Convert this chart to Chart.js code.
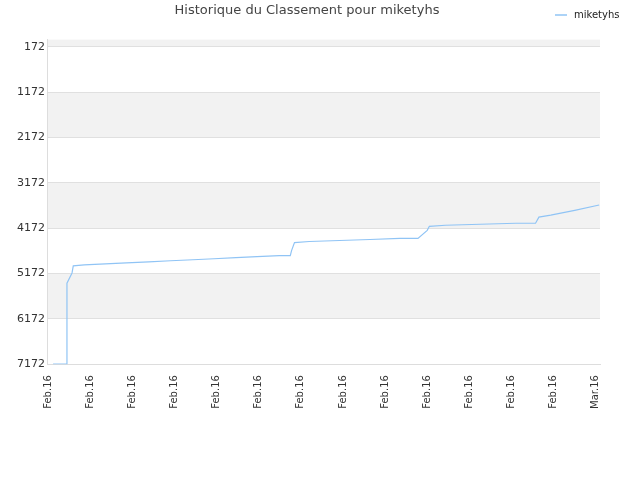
<!DOCTYPE html>
<html>
<head>
<meta charset="utf-8">
<script src="https://cdn.jsdelivr.net/npm/chart.js@4"></script>
<style>
  html, body { margin: 0; background: #fff; }
  #wrap { width: 640px; height: 480px; }
</style>
</head>
<body>
<div id="wrap"><canvas id="chart"></canvas></div>
<script>
const dayPos = [0.12, 0.45, 0.45, 0.57, 0.6, 0.86, 1.36, 1.86, 2.39, 2.91, 3.44, 3.94, 4.46, 4.96, 5.49, 5.75, 5.78, 5.85, 6.2, 6.92, 7.64, 8.35, 8.78, 9.0, 9.05, 9.43, 10.26, 11.1, 11.57, 11.65, 11.93, 12.5, 13.08];
const ranks = [7172, 7172, 5385, 5161, 5004, 4982, 4960, 4937, 4915, 4892, 4870, 4848, 4825, 4803, 4780, 4780, 4669, 4490, 4467, 4445, 4423, 4400, 4400, 4221, 4132, 4109, 4087, 4065, 4065, 3930, 3886, 3780, 3662];
const xLabels = ["Feb.16", "Feb.16", "Feb.16", "Feb.16", "Feb.16", "Feb.16", "Feb.16", "Feb.16", "Feb.16", "Feb.16", "Feb.16", "Feb.16", "Feb.16", "Mar.16"];
const yTicks = [172, 1172, 2172, 3172, 4172, 5172, 6172, 7172];
const seriesName = "miketyhs";
const lineColor = "#90c4f5";

const bands = {
  id: "bands",
  beforeDraw(chart) {
    const { ctx, chartArea: a, scales: { y } } = chart;
    const edges = [y.min, ...yTicks];
    ctx.save();
    ctx.fillStyle = "#f2f2f2";
    for (let i = 0; i < edges.length - 1; i++) {
      if (i % 2 !== 0) continue;
      const y1 = y.getPixelForValue(edges[i]);
      const y2 = y.getPixelForValue(edges[i + 1]);
      ctx.fillRect(a.left, y1, a.right - a.left, y2 - y1);
    }
    ctx.restore();
  },
  afterDraw(chart) {
    // small legend in the top right corner
    const ctx = chart.ctx;
    ctx.save();
    ctx.strokeStyle = lineColor;
    ctx.lineWidth = 1.5;
    ctx.beginPath();
    ctx.moveTo(555, 15);
    ctx.lineTo(567, 15);
    ctx.stroke();
    ctx.fillStyle = "#222";
    ctx.font = "10px 'DejaVu Sans'";
    ctx.textBaseline = "middle";
    ctx.fillText(seriesName, 574, 15);
    ctx.restore();
  },
};

new Chart(document.getElementById("chart"), {
  type: "line",
  data: {
    datasets: [{
      label: seriesName,
      data: dayPos.map((x, i) => ({ x, y: ranks[i] })),
      borderColor: lineColor,
      backgroundColor: lineColor,
      borderWidth: 1.2,
      pointRadius: 0,
    }],
  },
  options: {
    responsive: true,
    maintainAspectRatio: false,
    animation: false,
    layout: { padding: { top: 0, right: 40, bottom: 68, left: 14 } },
    plugins: {
      title: {
        display: true,
        text: "Historique du Classement pour miketyhs",
        color: "#444",
        font: { family: "DejaVu Sans", size: 13, weight: "normal" },
        padding: { top: 3, bottom: 21 },
      },
      legend: { display: false },
    },
    scales: {
      x: {
        type: "linear",
        min: 0, max: 13.1,
        afterBuildTicks: (s) => { s.ticks = xLabels.map((_, i) => ({ value: i })); },
        ticks: {
          callback: (v) => xLabels[v],
          minRotation: 90, maxRotation: 90,
          color: "#333",
          font: { family: "DejaVu Sans", size: 10 },
        },
        grid: { display: false },
        border: { color: "#ddd" },
      },
      y: {
        reverse: true,
        min: 15, max: 7172,
        afterBuildTicks: (s) => { s.ticks = yTicks.map((v) => ({ value: v })); },
        ticks: {
          callback: (v) => String(v),
          color: "#333",
          font: { family: "DejaVu Sans", size: 11 },
        },
        grid: { color: "#e0e0e0", drawTicks: false },
        border: { color: "#ddd" },
      },
    },
  },
  plugins: [bands],
});
</script>
</body>
</html>
